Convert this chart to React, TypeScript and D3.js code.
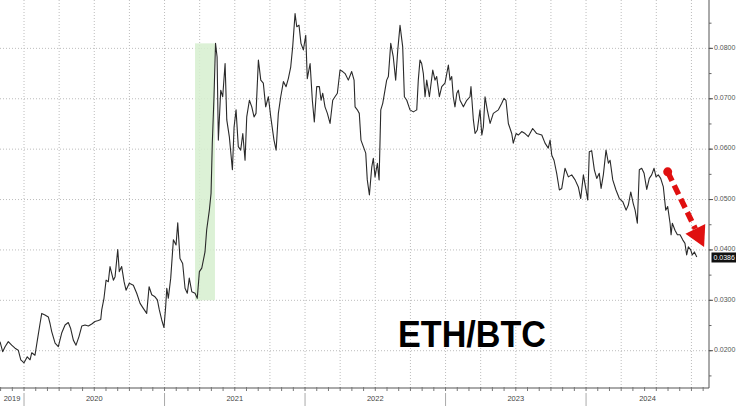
import React from 'react';
import * as d3 from 'd3';

// ---- data (decimal year, ETH/BTC ratio) ----
const years: number[] = [
  2019.829, 2019.848, 2019.865, 2019.888, 2019.912, 2019.936, 2019.959, 2019.977, 2020.000, 2020.023,
  2020.043, 2020.055, 2020.078, 2020.095, 2020.114, 2020.126, 2020.149, 2020.173, 2020.185, 2020.197,
  2020.221, 2020.244, 2020.268, 2020.292, 2020.315, 2020.332, 2020.351, 2020.370, 2020.391, 2020.411,
  2020.434, 2020.458, 2020.482, 2020.505, 2020.529, 2020.546, 2020.553, 2020.569, 2020.584, 2020.600,
  2020.612, 2020.636, 2020.648, 2020.667, 2020.678, 2020.695, 2020.712, 2020.726, 2020.749, 2020.778,
  2020.802, 2020.826, 2020.849, 2020.873, 2020.890, 2020.909, 2020.932, 2020.949, 2020.963, 2020.980,
  2020.996, 2021.008, 2021.016, 2021.027, 2021.044, 2021.063, 2021.082, 2021.094, 2021.110, 2021.129,
  2021.146, 2021.162, 2021.176, 2021.194, 2021.217, 2021.233, 2021.248, 2021.265, 2021.288, 2021.300,
  2021.319, 2021.331, 2021.340, 2021.352, 2021.363, 2021.374, 2021.383, 2021.400, 2021.414, 2021.431,
  2021.443, 2021.461, 2021.483, 2021.495, 2021.509, 2021.525, 2021.542, 2021.557, 2021.573, 2021.585,
  2021.604, 2021.621, 2021.637, 2021.651, 2021.668, 2021.685, 2021.703, 2021.720, 2021.739, 2021.756,
  2021.779, 2021.794, 2021.810, 2021.827, 2021.846, 2021.865, 2021.881, 2021.898, 2021.912, 2021.929,
  2021.941, 2021.957, 2021.971, 2021.988, 2022.005, 2022.016, 2022.036, 2022.052, 2022.066, 2022.083,
  2022.102, 2022.114, 2022.126, 2022.142, 2022.159, 2022.178, 2022.197, 2022.213, 2022.230, 2022.249,
  2022.268, 2022.285, 2022.308, 2022.332, 2022.349, 2022.356, 2022.372, 2022.386, 2022.398, 2022.415,
  2022.432, 2022.443, 2022.458, 2022.475, 2022.486, 2022.498, 2022.515, 2022.527, 2022.539, 2022.553,
  2022.569, 2022.581, 2022.593, 2022.610, 2022.628, 2022.645, 2022.660, 2022.676, 2022.695, 2022.707,
  2022.724, 2022.747, 2022.771, 2022.795, 2022.806, 2022.818, 2022.830, 2022.842, 2022.854, 2022.866,
  2022.885, 2022.909, 2022.925, 2022.937, 2022.956, 2022.973, 2022.996, 2023.020, 2023.032, 2023.044,
  2023.055, 2023.067, 2023.080, 2023.091, 2023.103, 2023.127, 2023.151, 2023.174, 2023.181, 2023.198,
  2023.210, 2023.226, 2023.245, 2023.258, 2023.269, 2023.281, 2023.297, 2023.317, 2023.340, 2023.376,
  2023.400, 2023.416, 2023.430, 2023.447, 2023.471, 2023.482, 2023.502, 2023.518, 2023.542, 2023.566,
  2023.589, 2023.620, 2023.649, 2023.685, 2023.708, 2023.731, 2023.744, 2023.756, 2023.772, 2023.791,
  2023.810, 2023.827, 2023.850, 2023.874, 2023.898, 2023.922, 2023.945, 2023.962, 2023.981, 2024.000,
  2024.012, 2024.023, 2024.040, 2024.059, 2024.076, 2024.094, 2024.107, 2024.123, 2024.142, 2024.159,
  2024.171, 2024.190, 2024.213, 2024.237, 2024.261, 2024.285, 2024.301, 2024.318, 2024.336, 2024.349,
  2024.365, 2024.379, 2024.396, 2024.413, 2024.432, 2024.450, 2024.467, 2024.484, 2024.498, 2024.514,
  2024.531, 2024.550, 2024.567, 2024.581, 2024.598, 2024.605, 2024.614, 2024.633, 2024.650, 2024.669,
  2024.688, 2024.704, 2024.716, 2024.728, 2024.745, 2024.756, 2024.771, 2024.788,
];

const ratios: number[] = [
  0.0218, 0.0198, 0.0208, 0.0218, 0.0211, 0.0205, 0.0201, 0.0182, 0.0176, 0.0188,
  0.0182, 0.0196, 0.0191, 0.0221, 0.0254, 0.0274, 0.0271, 0.0267, 0.0254, 0.0238,
  0.0215, 0.0208, 0.0235, 0.0251, 0.0256, 0.0244, 0.0221, 0.0211, 0.0228, 0.0249,
  0.0251, 0.0249, 0.0253, 0.0258, 0.0260, 0.0262, 0.0281, 0.0304, 0.0340, 0.0337,
  0.0367, 0.0340, 0.0347, 0.0401, 0.0357, 0.0367, 0.0337, 0.0320, 0.0334, 0.0330,
  0.0314, 0.0294, 0.0284, 0.0274, 0.0327, 0.0311, 0.0307, 0.0301, 0.0281, 0.0261,
  0.0246, 0.0287, 0.0324, 0.0304, 0.0344, 0.0420, 0.0410, 0.0454, 0.0383, 0.0373,
  0.0324, 0.0314, 0.0344, 0.0317, 0.0314, 0.0304, 0.0357, 0.0364, 0.0396, 0.0440,
  0.0479, 0.0512, 0.0612, 0.0704, 0.0810, 0.0783, 0.0618, 0.0717, 0.0704, 0.0770,
  0.0658, 0.0625, 0.0559, 0.0644, 0.0678, 0.0605, 0.0598, 0.0631, 0.0578, 0.0664,
  0.0697, 0.0684, 0.0664, 0.0671, 0.0777, 0.0737, 0.0731, 0.0684, 0.0704, 0.0664,
  0.0618, 0.0598, 0.0671, 0.0704, 0.0734, 0.0724, 0.0740, 0.0763, 0.0803, 0.0869,
  0.0843, 0.0846, 0.0810, 0.0797, 0.0826, 0.0740, 0.0770, 0.0697, 0.0654, 0.0724,
  0.0724, 0.0697, 0.0711, 0.0684, 0.0671, 0.0651, 0.0697, 0.0704, 0.0711, 0.0757,
  0.0754, 0.0750, 0.0737, 0.0754, 0.0737, 0.0684, 0.0678, 0.0671, 0.0618, 0.0605,
  0.0592, 0.0539, 0.0509, 0.0565, 0.0582, 0.0545, 0.0572, 0.0539, 0.0678, 0.0691,
  0.0717, 0.0737, 0.0744, 0.0810, 0.0783, 0.0737, 0.0797, 0.0846, 0.0803, 0.0704,
  0.0697, 0.0678, 0.0674, 0.0678, 0.0737, 0.0777, 0.0770, 0.0750, 0.0704, 0.0737,
  0.0704, 0.0757, 0.0737, 0.0744, 0.0704, 0.0724, 0.0731, 0.0767, 0.0737, 0.0744,
  0.0704, 0.0684, 0.0711, 0.0717, 0.0697, 0.0684, 0.0697, 0.0704, 0.0724, 0.0658,
  0.0631, 0.0638, 0.0678, 0.0628, 0.0644, 0.0704, 0.0678, 0.0651, 0.0671, 0.0678,
  0.0691, 0.0701, 0.0697, 0.0651, 0.0631, 0.0612, 0.0631, 0.0628, 0.0635, 0.0631,
  0.0625, 0.0641, 0.0631, 0.0628, 0.0612, 0.0602, 0.0618, 0.0588, 0.0578, 0.0552,
  0.0519, 0.0522, 0.0562, 0.0545, 0.0549, 0.0539, 0.0525, 0.0502, 0.0549, 0.0519,
  0.0499, 0.0595, 0.0597, 0.0559, 0.0542, 0.0552, 0.0522, 0.0549, 0.0598, 0.0572,
  0.0578, 0.0539, 0.0519, 0.0502, 0.0496, 0.0479, 0.0489, 0.0515, 0.0492, 0.0479,
  0.0453, 0.0559, 0.0562, 0.0552, 0.0520, 0.0542, 0.0549, 0.0562, 0.0545, 0.0549,
  0.0542, 0.0525, 0.0479, 0.0486, 0.0453, 0.0430, 0.0453, 0.0439, 0.0430, 0.0430,
  0.0420, 0.0413, 0.0390, 0.0406, 0.0400, 0.0390, 0.0396, 0.0386,
];

const yTickValues: number[] = [0.02, 0.03, 0.04, 0.05, 0.06, 0.07, 0.08, 0.09];
const yearLabels: string[] = ['2019', '2020', '2021', '2022', '2023', '2024'];
const yearBoundaries: number[] = [2020, 2021, 2022, 2023, 2024];
const lastValue = 0.0386;
const title = 'ETH/BTC';

// highlighted period (decimal years) and its vertical span (ratio)
const bandYears: number[] = [2021.217, 2021.359];
const bandRatios: number[] = [0.030, 0.081];

// downward arrow annotation (decimal year, ratio)
const arrowYears: number[] = [2024.581, 2024.840];
const arrowRatios: number[] = [0.0555, 0.0406];

const X_DOMAIN: [number, number] = [2019.829, 2024.875];
const Y_DOMAIN: [number, number] = [0.0126, 0.0896];

export default function App() {
  const W = 736, H = 406;
  const right = 709, bottom = 388;
  const font = "'Liberation Sans', Arial, sans-serif";

  const x = d3.scaleLinear().domain(X_DOMAIN).range([0, right]);
  const y = d3.scaleLinear().domain(Y_DOMAIN).range([bottom, 0]);

  const data = years.map((t, i) => [t, ratios[i]] as [number, number]);
  const line = d3.line<[number, number]>().x(d => x(d[0])).y(d => y(d[1]));

  const quarters = d3.range(2020, 2024.9, 0.25);
  const months = d3.range(0, 61).map(i => 2019 + 10 / 12 + i / 12).filter(m => m <= X_DOMAIN[1]);
  const minorY = d3.range(0.015, 0.0901, 0.005);

  const segEdges = [X_DOMAIN[0], ...yearBoundaries, X_DOMAIN[1]];

  // arrow geometry
  const ax0 = x(arrowYears[0]), ay0 = y(arrowRatios[0]);
  const ax1 = x(arrowYears[1]), ay1 = y(arrowRatios[1]);
  const ang = Math.atan2(ay1 - ay0, ax1 - ax0);
  const headLen = 20, headHalf = 11;
  const bx = ax1 - headLen * Math.cos(ang), by = ay1 - headLen * Math.sin(ang);
  const px = -Math.sin(ang), py = Math.cos(ang);

  return (
    <svg width={W} height={H} style={{ position: 'fixed', left: 0, top: 0, background: '#fff' }}>
      <rect x={0} y={0} width={W} height={H} fill="#fff" />
      {/* gridlines */}
      {yTickValues.map(v => (
        <line key={'gy' + v} x1={0} x2={right} y1={y(v)} y2={y(v)} stroke="#bdbdbd" strokeWidth={1} strokeDasharray="1,2" />
      ))}
      {quarters.map(q => (
        <line key={'gx' + q} x1={x(q)} x2={x(q)} y1={0} y2={bottom} stroke="#bdbdbd" strokeWidth={1} strokeDasharray="1,2" />
      ))}
      {/* highlight band */}
      <rect x={x(bandYears[0])} width={x(bandYears[1]) - x(bandYears[0])} y={y(bandRatios[1])} height={y(bandRatios[0]) - y(bandRatios[1])} fill="#d6efcf" opacity={0.85} />
      {/* series */}
      <path d={line(data) || ''} fill="none" stroke="#2a2a2a" strokeWidth={1.1} strokeLinejoin="round" />
      {/* x axis */}
      <line x1={0} x2={right} y1={bottom} y2={bottom} stroke="#555" strokeWidth={1} />
      {months.map(m => (
        <line key={'mt' + m} x1={x(m)} x2={x(m)} y1={bottom - 1} y2={bottom + 3} stroke="#777" strokeWidth={1} />
      ))}
      {yearBoundaries.map(b => (
        <line key={'yb' + b} x1={x(b)} x2={x(b)} y1={bottom + 5} y2={H} stroke="#aaa" strokeWidth={1} />
      ))}
      {yearLabels.map((lab, i) => (
        <text key={'yl' + lab} x={(x(segEdges[i]) + x(segEdges[i + 1])) / 2} y={399} fontSize={7.5} fill="#444" textAnchor="middle" dominantBaseline="middle" fontFamily={font}>{lab}</text>
      ))}
      {/* y axis */}
      <line x1={right} x2={right} y1={0} y2={bottom} stroke="#555" strokeWidth={1} />
      {minorY.map(v => (
        <line key={'my' + v} x1={right} x2={right + 2.5} y1={y(v)} y2={y(v)} stroke="#666" strokeWidth={1} />
      ))}
      {yTickValues.map(v => (
        <g key={'yt' + v}>
          <line x1={right} x2={right + 4} y1={y(v)} y2={y(v)} stroke="#555" strokeWidth={1} />
          <text x={714} y={y(v) - 0.5} fontSize={7} fill="#555" dominantBaseline="middle" fontFamily={font}>{v.toFixed(4)}</text>
        </g>
      ))}
      <rect x={711.5} y={y(lastValue) - 4.5} width={24.5} height={10} fill="#111" />
      <text x={713.5} y={y(lastValue) + 0.7} fontSize={7} fill="#fff" dominantBaseline="middle" fontFamily={font}>{lastValue.toFixed(4)}</text>
      {/* title */}
      <text x={398} y={347} fontSize={37} fontWeight="bold" fill="#000" fontFamily={font} textLength={148} lengthAdjust="spacingAndGlyphs">{title}</text>
      {/* arrow */}
      <line x1={ax0} y1={ay0} x2={bx} y2={by} stroke="#e01010" strokeWidth={5.5} strokeDasharray="10,5" />
      <circle cx={ax0} cy={ay0} r={4.5} fill="#e01010" />
      <polygon points={`${ax1},${ay1} ${bx + px * headHalf},${by + py * headHalf} ${bx - px * headHalf},${by - py * headHalf}`} fill="#e01010" />
    </svg>
  );
}
